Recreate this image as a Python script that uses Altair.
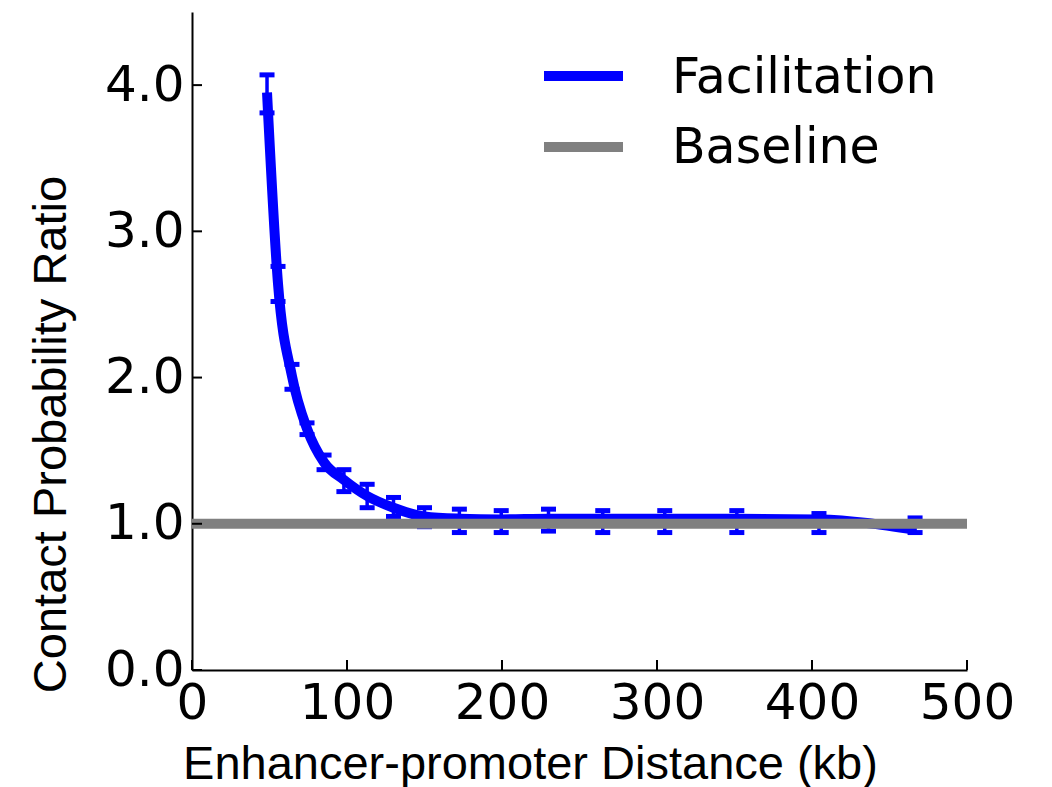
import altair as alt
import pandas as pd

# Enhancer-promoter distance (kb) and contact probability ratio
distance_kb = [48.4, 55.5, 64.5, 74.2, 85.2, 98.0, 113.0, 130.0, 150.0, 172.5,
               199.5, 230.0, 265.0, 305.0, 351.5, 404.5, 466.5]
ratio = [3.95, 2.64, 2.01, 1.65, 1.42, 1.30, 1.19, 1.11, 1.05, 1.035,
         1.03, 1.035, 1.035, 1.035, 1.035, 1.03, 0.96]
ratio_hi = [4.07, 2.76, 2.09, 1.69, 1.47, 1.37, 1.27, 1.18, 1.11, 1.10,
            1.09, 1.10, 1.09, 1.09, 1.09, 1.07, 1.04]
ratio_lo = [3.81, 2.52, 1.92, 1.61, 1.37, 1.22, 1.11, 1.05, 0.98, 0.94,
            0.94, 0.95, 0.94, 0.94, 0.94, 0.94, 0.94]

baseline_value = 1.0
x_ticks = [0, 100, 200, 300, 400, 500]
y_ticks = [0, 1, 2, 3, 4]
legend_names = ["Facilitation", "Baseline"]
legend_colors = ["blue", "gray"]

W, H = 775, 658
TICK_FONT = "DejaVu Sans"
TITLE_FONT = "Liberation Sans"

df = pd.DataFrame({"d": distance_kb, "r": ratio, "hi": ratio_hi, "lo": ratio_lo})
base_df = pd.DataFrame({"x0": [0], "x1": [500], "y": [baseline_value]})
xt_df = pd.DataFrame({"v": x_ticks})
yt_df = pd.DataFrame({"v": y_ticks})

xscale = alt.Scale(domain=[0, 500], nice=False, zero=False)
yscale = alt.Scale(domain=[0, 4.5], nice=False, zero=False)

x_axis = alt.Axis(
    values=x_ticks, format="d", ticks=False, grid=False,
    domainColor="black", domainWidth=2,
    labelFont=TICK_FONT, labelFontSize=50, labelColor="black", labelPadding=8,
    labelFlush=False, labelOverlap=False,
    title="Enhancer-promoter Distance (kb)", titleFont=TITLE_FONT,
    titleFontSize=47, titleFontWeight="normal", titleColor="black",
    titleX=338, titleY=108, titleBaseline="alphabetic", titleAlign="center",
)
y_axis = alt.Axis(
    values=y_ticks, format=".1f", ticks=False, grid=False,
    domainColor="black", domainWidth=2,
    labelFont=TICK_FONT, labelFontSize=50, labelColor="black", labelPadding=8,
    labelFlush=False, labelOverlap=False,
    title="Contact Probability Ratio", titleFont=TITLE_FONT,
    titleFontSize=47, titleFontWeight="normal", titleColor="black",
    titleX=-127, titleY=422, titleBaseline="alphabetic", titleAlign="center",
    titleAngle=270,
)

curve = alt.Chart(df).mark_line(
    color="blue", strokeWidth=10, interpolate="monotone"
).encode(
    x=alt.X("d:Q", scale=xscale, axis=x_axis),
    y=alt.Y("r:Q", scale=yscale, axis=y_axis),
)

stems = alt.Chart(df).mark_rule(color="blue", strokeWidth=3.5).encode(
    x=alt.X("d:Q", scale=xscale), y=alt.Y("lo:Q", scale=yscale), y2="hi:Q"
)
caps_hi = alt.Chart(df).mark_tick(
    color="blue", orient="horizontal", size=15, thickness=5, opacity=1
).encode(x=alt.X("d:Q", scale=xscale), y=alt.Y("hi:Q", scale=yscale))
caps_lo = alt.Chart(df).mark_tick(
    color="blue", orient="horizontal", size=15, thickness=5, opacity=1
).encode(x=alt.X("d:Q", scale=xscale), y=alt.Y("lo:Q", scale=yscale))

baseline = alt.Chart(base_df).mark_rule(color="gray", strokeWidth=10).encode(
    x=alt.X("x0:Q", scale=xscale), x2="x1:Q", y=alt.Y("y:Q", scale=yscale)
)

# inward-pointing tick marks on both axes
x_tick_marks = alt.Chart(xt_df).mark_rule(color="black", strokeWidth=2).encode(
    x=alt.X("v:Q", scale=xscale), y=alt.value(H), y2=alt.value(H - 10)
)
y_tick_marks = alt.Chart(yt_df).mark_rule(color="black", strokeWidth=2).encode(
    y=alt.Y("v:Q", scale=yscale), x=alt.value(0), x2=alt.value(10)
)

# legend: line swatches and labels
legend_layers = []
for name, color, y_line, y_text in zip(legend_names, legend_colors, [64, 135], [81, 151]):
    item = pd.DataFrame({"name": [name]})
    legend_layers.append(
        alt.Chart(item).mark_rule(strokeWidth=10, color=color).encode(
            x=alt.value(352), x2=alt.value(431), y=alt.value(y_line)
        )
    )
    legend_layers.append(
        alt.Chart(item).mark_text(
            align="left", baseline="alphabetic", font=TICK_FONT,
            fontSize=49, color="black"
        ).encode(x=alt.value(480), y=alt.value(y_text), text="name:N")
    )

chart = alt.layer(
    curve, stems, caps_hi, caps_lo, baseline,
    x_tick_marks, y_tick_marks, *legend_layers,
).properties(
    width=W, height=H, autosize="none",
    padding={"left": 192, "top": 12, "right": 85, "bottom": 117},
).configure(
    background="white", view=alt.ViewConfig(stroke=None)
)

chart.save("out.html", embed_options={"renderer": "svg", "actions": False})
